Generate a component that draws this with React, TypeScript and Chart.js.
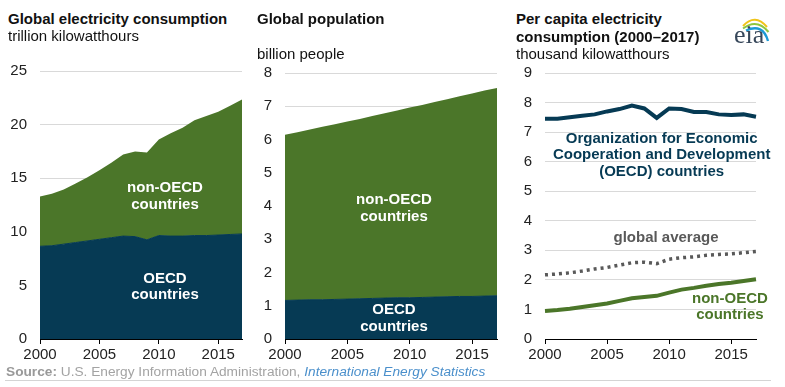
import React, { useEffect, useRef } from "react";
import { Chart, registerables } from "chart.js";
Chart.register(...registerables);

const FONT = "'Liberation Sans', Arial, sans-serif";
const NAVY = "#063a54";
const GREEN = "#4b7629";
const GRAY_DOT = "#595959";

const years = ["2000","2001","2002","2003","2004","2005","2006","2007","2008","2009","2010","2011","2012","2013","2014","2015","2016","2017"];
const yearTickLabels = ["2000", "2005", "2010", "2015"];

// Global electricity consumption (trillion kWh)
const elecOECD = [8.65, 8.7, 8.85, 9.0, 9.15, 9.3, 9.45, 9.6, 9.55, 9.25, 9.65, 9.6, 9.6, 9.65, 9.65, 9.7, 9.75, 9.8];
const elecNonOECD = [4.65, 4.85, 5.1, 5.5, 5.95, 6.45, 7.0, 7.6, 7.95, 8.15, 8.95, 9.6, 10.1, 10.75, 11.15, 11.5, 12.0, 12.55];
const elecYTicks = [0, 5, 10, 15, 20, 25];

// Global population (billion people)
const popOECD = [1.16, 1.17, 1.18, 1.18, 1.19, 1.2, 1.21, 1.22, 1.23, 1.24, 1.24, 1.25, 1.26, 1.27, 1.28, 1.28, 1.29, 1.3];
const popNonOECD = [4.98, 5.05, 5.12, 5.2, 5.27, 5.34, 5.41, 5.49, 5.56, 5.63, 5.72, 5.79, 5.87, 5.94, 6.02, 6.1, 6.18, 6.25];
const popYTicks = [0, 1, 2, 3, 4, 5, 6, 7, 8];

// Per capita electricity consumption (thousand kWh)
const pcOECD = [7.45, 7.45, 7.5, 7.55, 7.6, 7.7, 7.78, 7.9, 7.8, 7.48, 7.8, 7.78, 7.68, 7.68, 7.6, 7.58, 7.6, 7.52];
const pcGlobal = [2.17, 2.2, 2.24, 2.3, 2.37, 2.42, 2.5, 2.58, 2.6, 2.55, 2.7, 2.75, 2.78, 2.83, 2.86, 2.88, 2.92, 2.96];
const pcNonOECD = [0.95, 0.98, 1.02, 1.08, 1.14, 1.2, 1.29, 1.38, 1.42, 1.46, 1.57, 1.67, 1.73, 1.8, 1.86, 1.9, 1.96, 2.02];
const pcYTicks = [0, 1, 2, 3, 4, 5, 6, 7, 8, 9];

type Label = { x: number; y: number; lines: string[]; color: string };

function labelPlugin(items: Label[]) {
  return {
    id: "annot",
    afterDatasetsDraw(chart: any) {
      const { ctx } = chart;
      const xs = chart.scales.x;
      const ys = chart.scales.y;
      ctx.save();
      ctx.font = `bold 15px ${FONT}`;
      ctx.textAlign = "center";
      ctx.textBaseline = "middle";
      const lh = 16.8;
      for (const it of items) {
        const px = xs.getPixelForValue(it.x);
        const py = ys.getPixelForValue(it.y);
        const n = it.lines.length;
        it.lines.forEach((ln, i) => {
          ctx.fillStyle = it.color;
          ctx.fillText(ln, px, py + (i - (n - 1) / 2) * lh);
        });
      }
      ctx.restore();
    },
  };
}

function makeOptions(yTicks: number[], yWidth: number, padRight: number, stacked: boolean) {
  return {
    responsive: false,
    animation: false as const,
    layout: { padding: { top: 10, right: padRight, left: 0, bottom: 0 } },
    plugins: { legend: { display: false }, tooltip: { enabled: false }, title: { display: false } },
    elements: { point: { radius: 0 }, line: { tension: 0 } },
    scales: {
      x: {
        type: "category" as const,
        offset: false,
        grid: {
          offset: false,
          drawOnChartArea: false,
          drawTicks: true,
          tickLength: 5,
          z: 1,
          tickColor: (c: any) => (yearTickLabels.includes(years[c.index]) ? "#000" : "rgba(0,0,0,0)"),
        },
        border: { display: true, color: "#000", width: 1, z: 1 },
        ticks: {
          autoSkip: false,
          maxRotation: 0,
          minRotation: 0,
          padding: 2,
          color: "#222",
          font: { family: FONT, size: 15 },
          callback: (_v: any, i: number) => (yearTickLabels.includes(years[i]) ? years[i] : ""),
        },
        afterFit: (s: any) => {
          s.height = 30;
        },
      },
      y: {
        stacked,
        min: yTicks[0],
        max: yTicks[yTicks.length - 1],
        grid: { color: "#d9d9d9", drawTicks: false, lineWidth: 1 },
        border: { display: false },
        ticks: {
          stepSize: yTicks[1] - yTicks[0],
          padding: 13,
          color: "#222",
          font: { family: FONT, size: 15 },
        },
        afterFit: (s: any) => {
          s.width = yWidth;
        },
      },
    },
  };
}

function ChartCanvas({ left, top, width, height, build }: any) {
  const ref = useRef<HTMLCanvasElement | null>(null);
  useEffect(() => {
    if (!ref.current) return;
    const chart = new Chart(ref.current, build());
    return () => chart.destroy();
  }, []);
  return (
    <canvas
      ref={ref}
      width={width}
      height={height}
      style={{ position: "absolute", left, top, width, height }}
    />
  );
}

function areaConfig(oecd: number[], non: number[], yTicks: number[], yWidth: number, padRight: number, labels: Label[]) {
  return {
    type: "line" as const,
    data: {
      labels: years,
      datasets: [
        {
          data: oecd,
          backgroundColor: NAVY,
          borderColor: NAVY,
          borderWidth: 1,
          fill: "origin",
          pointRadius: 0,
        },
        {
          data: non,
          backgroundColor: GREEN,
          borderColor: GREEN,
          borderWidth: 0,
          fill: "-1",
          pointRadius: 0,
        },
      ],
    },
    options: makeOptions(yTicks, yWidth, padRight, true),
    plugins: [labelPlugin(labels)],
  };
}

function perCapitaConfig() {
  return {
    type: "line" as const,
    data: {
      labels: years,
      datasets: [
        { data: pcOECD, borderColor: NAVY, borderWidth: 4, fill: false, pointRadius: 0 },
        {
          data: pcGlobal,
          borderColor: GRAY_DOT,
          borderWidth: 3.5,
          borderDash: [3, 4],
          fill: false,
          pointRadius: 0,
        },
        { data: pcNonOECD, borderColor: GREEN, borderWidth: 4, fill: false, pointRadius: 0 },
      ],
    },
    options: makeOptions(pcYTicks, 40, 29, false),
    plugins: [
      labelPlugin([
        { x: 9.4, y: 6.22, lines: ["Organization for Economic", "Cooperation and Development", "(OECD) countries"], color: NAVY },
        { x: 9.75, y: 3.43, lines: ["global average"], color: "#595959" },
        { x: 14.9, y: 1.09, lines: ["non-OECD", "countries"], color: GREEN },
      ]),
    ],
  };
}

const textBase: React.CSSProperties = {
  position: "absolute",
  fontFamily: FONT,
  fontSize: 15,
  lineHeight: "17px",
  color: "#111",
  whiteSpace: "nowrap",
};

export default function App() {
  return (
    <div
      style={{
        position: "absolute",
        left: 0,
        top: 0,
        width: 785,
        height: 387,
        background: "#fff",
        overflow: "hidden",
        fontFamily: FONT,
      }}
    >
      <ChartCanvas
        left={0}
        top={49}
        width={250}
        height={320}
        build={() =>
          areaConfig(elecOECD, elecNonOECD, elecYTicks, 40, 8, [
            { x: 10.52, y: 13.31, lines: ["non-OECD", "countries"], color: "#fff" },
            { x: 10.52, y: 4.87, lines: ["OECD", "countries"], color: "#fff" },
          ])
        }
      />
      <ChartCanvas
        left={250}
        top={51}
        width={255}
        height={318}
        build={() =>
          areaConfig(popOECD, popNonOECD, popYTicks, 35, 8, [
            { x: 8.74, y: 3.93, lines: ["non-OECD", "countries"], color: "#fff" },
            { x: 8.74, y: 0.62, lines: ["OECD", "countries"], color: "#fff" },
          ])
        }
      />
      <ChartCanvas left={505} top={51} width={280} height={318} build={perCapitaConfig} />

      <div style={{ ...textBase, left: 8, top: 10, fontWeight: "bold" }}>Global electricity consumption</div>
      <div style={{ ...textBase, left: 8, top: 27 }}>trillion kilowatthours</div>

      <div style={{ ...textBase, left: 257, top: 10, fontWeight: "bold" }}>Global population</div>
      <div style={{ ...textBase, left: 257, top: 44.5 }}>billion people</div>

      <div style={{ ...textBase, left: 516, top: 10, fontWeight: "bold" }}>Per capita electricity</div>
      <div style={{ ...textBase, left: 516, top: 27.5, fontWeight: "bold" }}>consumption (2000–2017)</div>
      <div style={{ ...textBase, left: 516, top: 44.5 }}>thousand kilowatthours</div>

      <svg style={{ position: "absolute", left: 700, top: 0 }} width={85} height={60}>
        <path d="M43 26 Q55 13 67 27" stroke="#f0c419" strokeWidth={2} fill="none" />
        <path d="M43 28.5 Q57 18 68.5 32" stroke="#8dc63f" strokeWidth={2} fill="none" />
        <path d="M46 30.5 Q63 23 68 41" stroke="#1c9ad6" strokeWidth={2.4} fill="none" />
        <text x={34} y={42.5} fontFamily="'Liberation Serif', serif" fontSize={26} fill="#37475a">
          eia
        </text>
      </svg>

      <div style={{ ...textBase, left: 6, top: 364, fontSize: 13.7, lineHeight: "16px", color: "#a3a3a3" }}>
        <span style={{ fontWeight: "bold", color: "#999" }}>Source:</span> U.S. Energy Information Administration,{" "}
        <span style={{ fontStyle: "italic", color: "#4a8fcb" }}>International Energy Statistics</span>
      </div>
      <div style={{ position: "absolute", left: 5, top: 380, width: 766, height: 1, background: "#d4d4d4" }} />
    </div>
  );
}
